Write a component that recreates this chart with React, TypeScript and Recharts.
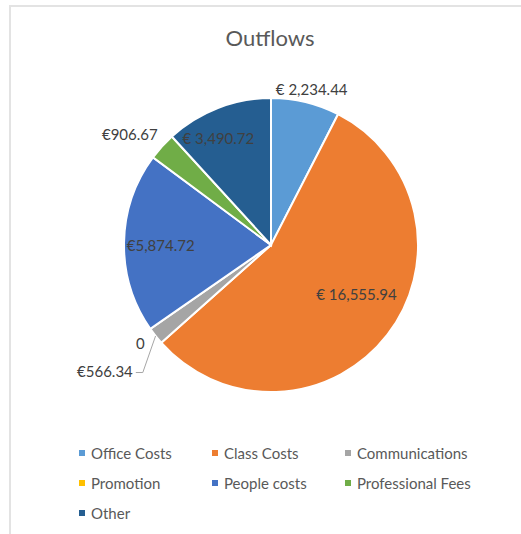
import { PieChart, Pie, Cell, Legend } from 'recharts';

const categories = ['Office Costs', 'Class Costs', 'Communications', 'Promotion', 'People costs', 'Professional Fees', 'Other'];
const amounts = [2234.44, 16555.94, 566.34, 0, 5874.72, 906.67, 3490.72];
const valueLabels = ['€ 2,234.44', '€ 16,555.94', '€566.34', '0', '€5,874.72', '€906.67', '€ 3,490.72'];

const colors = ['#5B9BD5', '#ED7D31', '#A5A5A5', '#FFC000', '#4472C4', '#70AD47', '#255E91'];

// label placement per slice: radius factor, angle nudge (deg, clockwise), anchor, leader line
const labelStyle = [
    { r: 1.1, d: 1, anchor: 'middle', leader: false },
    { r: 0.67, d: -8, anchor: 'middle', leader: false },
    { r: 1.27, d: -4, anchor: 'end', leader: true },
    { r: 1.11, d: -2, anchor: 'middle', leader: false },
    { r: 0.75, d: -1, anchor: 'middle', leader: false },
    { r: 1.22, d: -4, anchor: 'middle', leader: false },
    { r: 0.81, d: -5, anchor: 'middle', leader: false },
];

const data = categories.map((name, i) => ({ name, value: amounts[i], label: valueLabels[i] }));

const FONT = 'Lato, "Open Sans", sans-serif';
const RAD = Math.PI / 180;

function polar(cx: number, cy: number, r: number, angle: number) {
    return { x: cx + r * Math.cos(-angle * RAD), y: cy + r * Math.sin(-angle * RAD) };
}

function renderLabel(props: any) {
    const { cx, cy, midAngle, outerRadius, index } = props;
    const s = labelStyle[index];
    const p = polar(cx, cy, outerRadius * s.r, midAngle - s.d);
    const fill = '#404040';
    if (s.leader) {
        const edge = polar(cx, cy, outerRadius, midAngle);
        return (
            <g>
                <polyline
                    points={`${edge.x},${edge.y} ${p.x + 10},${p.y + 2} ${p.x + 3},${p.y + 2}`}
                    fill="none"
                    stroke="#A6A6A6"
                    strokeWidth={1}
                />
                <text x={p.x} y={p.y} textAnchor="end" dominantBaseline="central" fontSize={15} fill={fill} fontFamily={FONT}>
                    {valueLabels[index]}
                </text>
            </g>
        );
    }
    return (
        <text x={p.x} y={p.y} textAnchor={s.anchor} dominantBaseline="central" fontSize={15} fill={fill} fontFamily={FONT}>
            {valueLabels[index]}
        </text>
    );
}

function LegendGrid() {
    return (
        <div style={{ display: 'grid', gridTemplateColumns: '133px 133px 133px', rowGap: 0, marginLeft: 68 }}>
            {data.map((d, i) => (
                <div key={d.name} style={{ display: 'flex', alignItems: 'center', height: 30 }}>
                    <span style={{ width: 6, height: 6, background: colors[i], display: 'inline-block', marginRight: 6 }} />
                    <span style={{ fontFamily: FONT, fontSize: 15, color: '#595959' }}>{d.name}</span>
                </div>
            ))}
        </div>
    );
}

export default function App() {
    return (
        <div
            style={{
                position: 'absolute',
                left: 9,
                top: 5,
                width: 512,
                height: 529,
                borderTop: '2px solid #E3E3E3',
                borderLeft: '2px solid #E3E3E3',
                boxSizing: 'border-box',
                background: '#fff',
            }}
        >
            <PieChart width={510} height={527} margin={{ top: 0, right: 0, bottom: 0, left: 0 }}>
                <text x={259} y={30} textAnchor="middle" dominantBaseline="central" fontSize={22} fill="#595959" fontFamily={FONT}>
                    Outflows
                </text>
                <Pie
                    data={data}
                    dataKey="value"
                    nameKey="name"
                    cx={260}
                    cy={238}
                    outerRadius={147}
                    startAngle={90}
                    endAngle={-270}
                    stroke="#fff"
                    strokeWidth={2}
                    label={renderLabel}
                    labelLine={false}
                    isAnimationActive={false}
                >
                    {data.map((d, i) => (
                        <Cell key={d.name} fill={colors[i]} />
                    ))}
                </Pie>
                <Legend
                    verticalAlign="bottom"
                    align="left"
                    wrapperStyle={{ left: 0, bottom: 6, width: 510 }}
                    content={() => <LegendGrid />}
                />
            </PieChart>
        </div>
    );
}
